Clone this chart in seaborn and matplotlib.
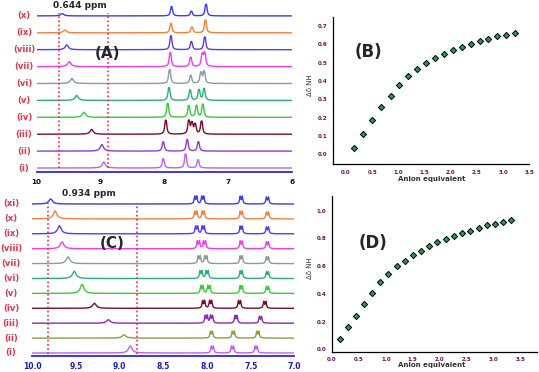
import numpy as np
import pandas as pd
import matplotlib
matplotlib.use("Agg")
import matplotlib.pyplot as plt
import seaborn as sns
from matplotlib.ticker import MultipleLocator

sns.set_style("white")
plt.rcParams['font.family'] = ['DejaVu Sans']

# ---------------- data ----------------
# Panel A (ppm), traces listed from (i) to (x)
A_labels = ['(i)', '(ii)', '(iii)', '(iv)', '(v)', '(vi)', '(vii)', '(viii)', '(ix)', '(x)']
A_colors = ['#c060f0', '#8a3ae0', '#7a0a2a', '#3cc83c', '#2ab07a', '#8a9aa0',
            '#f03cf0', '#5a3af0', '#f5803a', '#3b3bf5']
A_nh_pos = [8.95, 8.98, 9.14, 9.26, 9.375, 9.45, 9.49, 9.53, 9.56, 9.60]
A_nh_h = [6.0, 6.5, 4.7, 5.0, 5.0, 5.0, 5.0, 4.7, 2.7, 2.3]
A_ar_pos = [[8.02, 7.67, 7.475],
            [8.02, 7.645, 7.47],
            [7.98, 7.62, 7.57, 7.52, 7.42],
            [7.95, 7.62, 7.50, 7.40],
            [7.93, 7.60, 7.46, 7.38],
            [7.92, 7.59, 7.43, 7.38],
            [7.91, 7.59, 7.41, 7.37],
            [7.90, 7.58, 7.37],
            [7.90, 7.57, 7.36],
            [7.89, 7.58, 7.35]]
A_ar_h = [[8, 12, 7],
          [8, 10, 8],
          [12, 11, 9, 8, 11],
          [12, 10, 10, 11],
          [11, 9, 9, 10],
          [12, 7, 9, 10],
          [12, 8, 10, 11],
          [12, 7, 11],
          [8, 5, 11],
          [8, 4, 10]]
A_marks = [9.647, 8.89]
A_ticks = [10, 9, 8, 7, 6]

# Panel C (ppm), traces listed from (i) to (xi)
C_labels = ['(i)', '(ii)', '(iii)', '(iv)', '(v)', '(vi)', '(vii)', '(viii)', '(ix)', '(x)', '(xi)']
C_colors = ['#c060f0', '#8aa040', '#8a2ab0', '#7a0a2a', '#3cc83c', '#2ab07a',
            '#8a9aa0', '#f03cf0', '#5a3af0', '#f5803a', '#3b3bf5']
C_nh_pos = [8.88, 8.95, 9.13, 9.29, 9.43, 9.52, 9.59, 9.66, 9.69, 9.74, 9.79]
C_nh_h = [7.0, 3.3, 3.5, 5.0, 9.0, 7.3, 6.7, 6.7, 8.0, 8.0, 5.0]
C_ar_pos = [[7.94, 7.71, 7.44],
            [7.95, 7.70, 7.42],
            [8.01, 7.95, 7.67, 7.39],
            [8.04, 7.96, 7.63, 7.34],
            [8.06, 7.98, 7.61, 7.31],
            [8.07, 8.00, 7.61, 7.31],
            [8.09, 8.015, 7.61, 7.31],
            [8.10, 8.03, 7.61, 7.31],
            [8.12, 8.045, 7.61, 7.31],
            [8.13, 8.045, 7.61, 7.31],
            [8.13, 8.05, 7.61, 7.31]]
C_ar_h = [[8, 8, 8],
          [8, 8, 8],
          [9, 9, 9, 8],
          [9, 9, 9, 8],
          [9, 9, 9, 8],
          [9, 9, 9, 8],
          [9, 9, 9, 8],
          [9, 9, 9, 8],
          [9, 9, 9, 8],
          [9, 9, 9, 8],
          [9, 9, 9, 8]]
C_marks = [9.824, 8.807]
C_ticks = [10.0, 9.5, 9.0, 8.5, 8.0, 7.5, 7.0]

# Panel B titration
B_eq = [0.16, 0.33, 0.50, 0.67, 0.85, 1.01, 1.18, 1.36, 1.53, 1.70, 1.87, 2.04,
        2.21, 2.38, 2.55, 2.72, 2.88, 3.05, 3.23]
B_dd = [0.036, 0.111, 0.185, 0.256, 0.320, 0.378, 0.425, 0.467, 0.500, 0.527,
        0.549, 0.567, 0.585, 0.604, 0.616, 0.629, 0.644, 0.653, 0.664]

# Panel D titration
D_eq = [0.14, 0.29, 0.44, 0.59, 0.74, 0.90, 1.05, 1.20, 1.35, 1.50, 1.65, 1.81,
        1.96, 2.11, 2.27, 2.42, 2.57, 2.73, 2.88, 3.03, 3.18, 3.33]
D_dd = [0.072, 0.159, 0.243, 0.325, 0.406, 0.483, 0.546, 0.599, 0.639, 0.678,
        0.712, 0.743, 0.772, 0.798, 0.817, 0.837, 0.856, 0.877, 0.894, 0.906,
        0.921, 0.933]

# ---------------- figure ----------------
W, H = 539, 372
fig = plt.figure(figsize=(W / 100, H / 100), dpi=100)
fig.patch.set_facecolor('white')


def box(l, t, r, b):
    return [l / W, 1 - b / H, (r - l) / W, (b - t) / H]


def ftext(x, y, s, **kw):
    fig.text(x / W, 1 - y / H, s, **kw)


def lor(x, x0, h, w):
    return h / (1 + ((x - x0) / w) ** 2)


def spectrum(x, nh, nh_h, pos, hs, nh_w, ar_w, split):
    y = lor(x, nh, nh_h, nh_w)
    for p, h in zip(pos, hs):
        y = y + lor(x, p - split / 2, h * 0.8, ar_w) + lor(x, p + split / 2, h * 0.8, ar_w)
    return y


def nmr_panel(rect, xmax, xmin, ymax, labels, colors, nh_pos, nh_h, ar_pos, ar_h,
              base0, step, nh_w, ar_w, split, marks, mark_y, ticks, fmt, tick_color,
              tick_fs, label_x, bottom_px):
    ax = fig.add_axes(rect)
    x = np.linspace(xmax, xmin, 4000)
    for k in range(len(labels)):
        off = base0 + step * k
        y = off + spectrum(x, nh_pos[k], nh_h[k], ar_pos[k], ar_h[k], nh_w, ar_w, split)
        sns.lineplot(x=x, y=y, ax=ax, color=colors[k], lw=1.0, estimator=None, sort=False)
        ftext(label_x, bottom_px - off, labels[k], ha='center', va='center',
              fontsize=6, fontweight='bold', color='#e8304a')
    for m in marks:
        ax.plot([m, m], mark_y, color='#ff2050', lw=1.2, ls=(0, (1, 1.5)))
    ax.set_xlim(xmax, xmin)
    ax.set_ylim(0, ymax)
    for s in ['left', 'right', 'top']:
        ax.spines[s].set_visible(False)
    ax.spines['bottom'].set_color('#2a2ae0')
    ax.spines['bottom'].set_linewidth(1.3)
    ax.set_xticks(ticks)
    ax.set_xticklabels([fmt.format(t) for t in ticks], fontsize=tick_fs,
                       fontweight='bold', color=tick_color)
    ax.xaxis.set_minor_locator(MultipleLocator(0.25 if len(ticks) > 5 else 0.5))
    ax.tick_params(axis='x', which='major', direction='out', length=3, width=1,
                   color='#2a2ae0', pad=1.5)
    ax.tick_params(axis='x', which='minor', direction='out', length=2, width=0.8,
                   color='#2a2ae0')
    ax.set_yticks([])
    ax.set_xlabel('')
    ax.set_ylabel('')
    ax.patch.set_alpha(0)
    return ax


# Panel A
nmr_panel(box(36.7, 0, 292.3, 172.3), 10, 6, 172.3, A_labels, A_colors, A_nh_pos, A_nh_h,
          A_ar_pos, A_ar_h, 4.3, 16.9, 0.03, 0.013, 0.016, A_marks, [4, 159],
          A_ticks, '{:.0f}', '#111111', 5.2, 24, 172.3)
# Panel C
nmr_panel(box(32.3, 185, 294.5, 356), 10, 7, 171, C_labels, C_colors, C_nh_pos, C_nh_h,
          C_ar_pos, C_ar_h, 3.0, 14.9, 0.025, 0.008, 0.024, C_marks, [2, 153],
          C_ticks, '{:.1f}', '#1a1acc', 5.5, 11, 356)

ftext(80, 5, '0.644 ppm', ha='center', va='center', fontsize=6.5, fontweight='bold')
ftext(89, 193, '0.934 ppm', ha='center', va='center', fontsize=6.5, fontweight='bold')
ftext(107, 54, '(A)', ha='center', va='center', fontsize=11, fontweight='bold')
ftext(112, 243, '(C)', ha='center', va='center', fontsize=11, fontweight='bold')


def titr_panel(rect, xs, ys, xlim, ylim, yticks, ystep):
    ax = fig.add_axes(rect)
    df = pd.DataFrame({'eq': xs, 'dd': ys})
    sns.scatterplot(data=df, x='eq', y='dd', ax=ax, marker='D', s=10,
                    color='#1f9e5a', edgecolor='black', linewidth=0.7, zorder=3)
    ax.set_xlim(*xlim)
    ax.set_ylim(*ylim)
    for s in ['right', 'top']:
        ax.spines[s].set_visible(False)
    for s in ['left', 'bottom']:
        ax.spines[s].set_color('black')
        ax.spines[s].set_linewidth(0.9)
    xt = [0.0, 0.5, 1.0, 1.5, 2.0, 2.5, 3.0, 3.5]
    ax.set_xticks(xt)
    ax.set_xticklabels(['{:.1f}'.format(v) for v in xt], fontsize=4, fontweight='bold',
                       color='#6a1050')
    ax.set_yticks(yticks)
    ax.set_yticklabels(['{:.1f}'.format(v) for v in yticks], fontsize=4, fontweight='bold',
                       color='#6a1050')
    ax.xaxis.set_minor_locator(MultipleLocator(0.25))
    ax.yaxis.set_minor_locator(MultipleLocator(ystep / 2))
    ax.tick_params(which='major', direction='out', length=2.5, width=0.8, color='black', pad=1.5)
    ax.tick_params(which='minor', direction='out', length=1.5, width=0.6, color='black')
    ax.set_xlabel('')
    ax.set_ylabel('')
    ax.patch.set_alpha(0)
    return ax


titr_panel(box(332.7, 17.3, 529.3, 164), B_eq, B_dd, (-0.255, 3.5), (-0.053, 0.747),
           [0.0, 0.1, 0.2, 0.3, 0.4, 0.5, 0.6, 0.7], 0.1)
titr_panel(box(331.7, 196, 536.5, 351.7), D_eq, D_dd, (-0.005, 3.8), (-0.017, 1.106),
           [0.0, 0.2, 0.4, 0.6, 0.8, 1.0], 0.2)

ftext(368, 52, '(B)', ha='center', va='center', fontsize=12, fontweight='bold')
ftext(372.5, 243, '(D)', ha='center', va='center', fontsize=12, fontweight='bold')
ftext(310, 85, 'Δδ NH', ha='center', va='center', rotation=90, fontsize=5, color='#333333')
ftext(310, 268, 'Δδ NH', ha='center', va='center', rotation=90, fontsize=5, color='#333333')
ftext(432, 179, 'Anion equivalent', ha='center', va='center', fontsize=5, fontweight='bold',
      color='#333333')
ftext(432, 365, 'Anion equivalent', ha='center', va='center', fontsize=5, fontweight='bold',
      color='#333333')

fig.savefig('out.png', dpi=100, facecolor='white')
